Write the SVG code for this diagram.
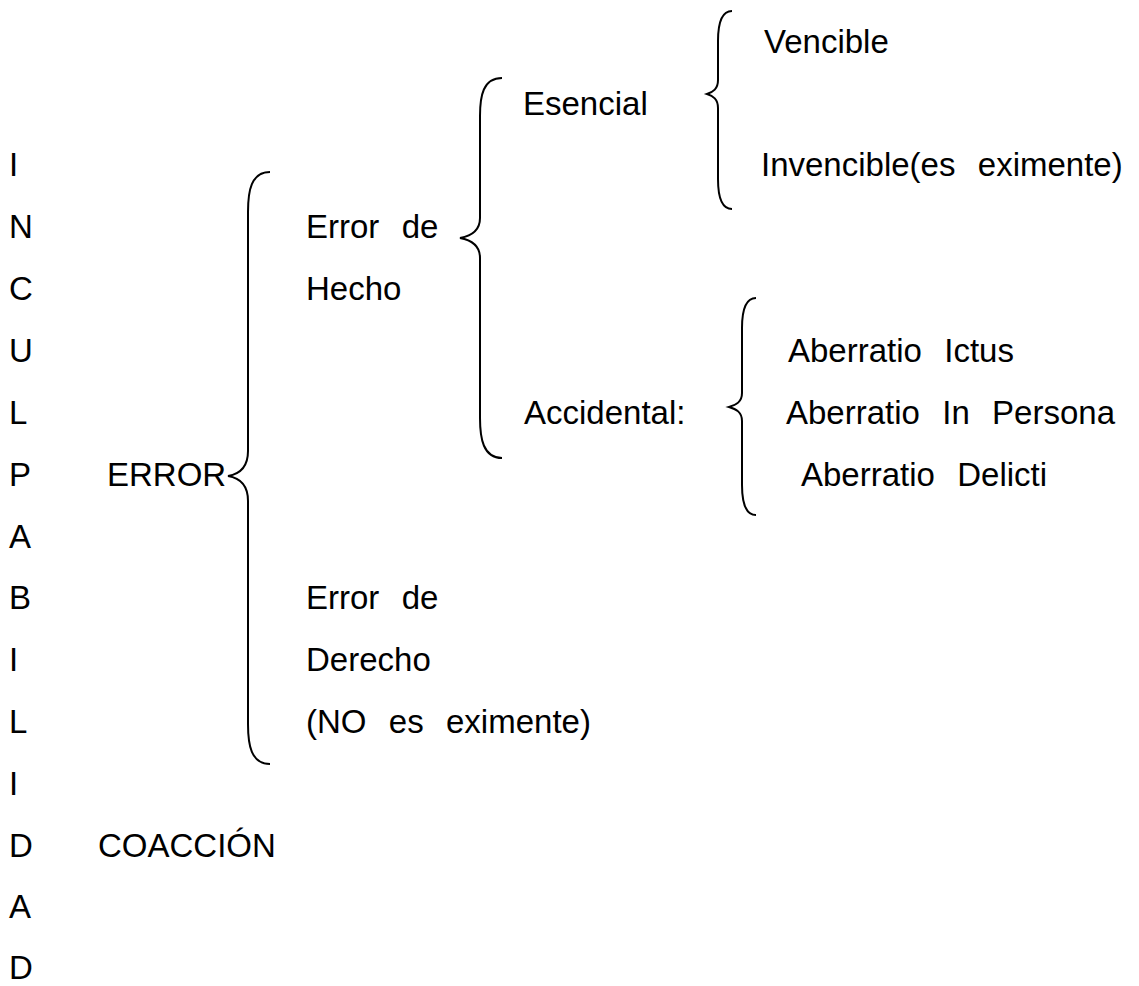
<svg xmlns="http://www.w3.org/2000/svg" width="1139" height="986" viewBox="0 0 1139 986">
<style>
text{font-family:"Liberation Sans",Arial,sans-serif;font-size:33px;fill:#000;white-space:pre;word-spacing:2px}
.b{fill:none;stroke:#000;stroke-width:2}
</style>
<rect width="1139" height="986" fill="#fff"/>
<g transform="translate(0,-4)">
<g id="col">
<text x="9" y="180">I</text>
<text x="9" y="242">N</text>
<text x="9" y="304">C</text>
<text x="9" y="366">U</text>
<text x="9" y="428">L</text>
<text x="9" y="490">P</text>
<text x="9" y="552">A</text>
<text x="9" y="613">B</text>
<text x="9" y="675">I</text>
<text x="9" y="737">L</text>
<text x="9" y="799">I</text>
<text x="9" y="861">D</text>
<text x="9" y="922">A</text>
<text x="9" y="983">D</text>
</g>
<g id="error"><text x="107" y="490">ERROR</text></g>
<g id="coaccion"><text x="98" y="861">COACCIÓN</text></g>
<g id="hecho"><text x="306" y="242" xml:space="preserve">Error  de</text><text x="306" y="304">Hecho</text></g>
<g id="derecho"><text x="306" y="613" xml:space="preserve">Error  de</text><text x="306" y="675">Derecho</text><text x="306" y="737" xml:space="preserve">(NO  es  eximente)</text></g>
<g id="esencial"><text x="523" y="119">Esencial</text></g>
<g id="accidental"><text x="524" y="428">Accidental:</text></g>
<g id="vencible"><text x="764" y="57">Vencible</text></g>
<g id="invencible"><text x="761" y="180" xml:space="preserve">Invencible(es  eximente)</text></g>
<g id="ictus"><text x="788" y="366" xml:space="preserve">Aberratio  Ictus</text></g>
<g id="persona"><text x="786" y="428" xml:space="preserve">Aberratio  In  Persona</text></g>
<g id="delicti"><text x="801" y="490" xml:space="preserve">Aberratio  Delicti</text></g>
<g id="connectors">
<path class="b" d="M270,176 C251,176 248,195 248,216 L248,455 C248,471 240,478 228,480 C240,482 248,489 248,505 L248,728 C248,749 251,768 270,768"/>
<path class="b" d="M502,82 C483,82 480,100 480,120 L480,222 C480,235 471,240 460,242 C471,244 480,249 480,262 L480,422 C480,442 483,462 502,462"/>
<path class="b" d="M732,15 C720,15 718,30 718,45 L718,84 C718,93 713,96 707,98 C713,100 718,103 718,112 L718,183 C718,198 720,213 732,213"/>
<path class="b" d="M756,302 C744,302 742,317 742,332 L742,397 C742,406 736,409 729,411 C736,413 742,416 742,425 L742,489 C742,504 744,519 756,519"/>
</g>
</g>
</svg>
